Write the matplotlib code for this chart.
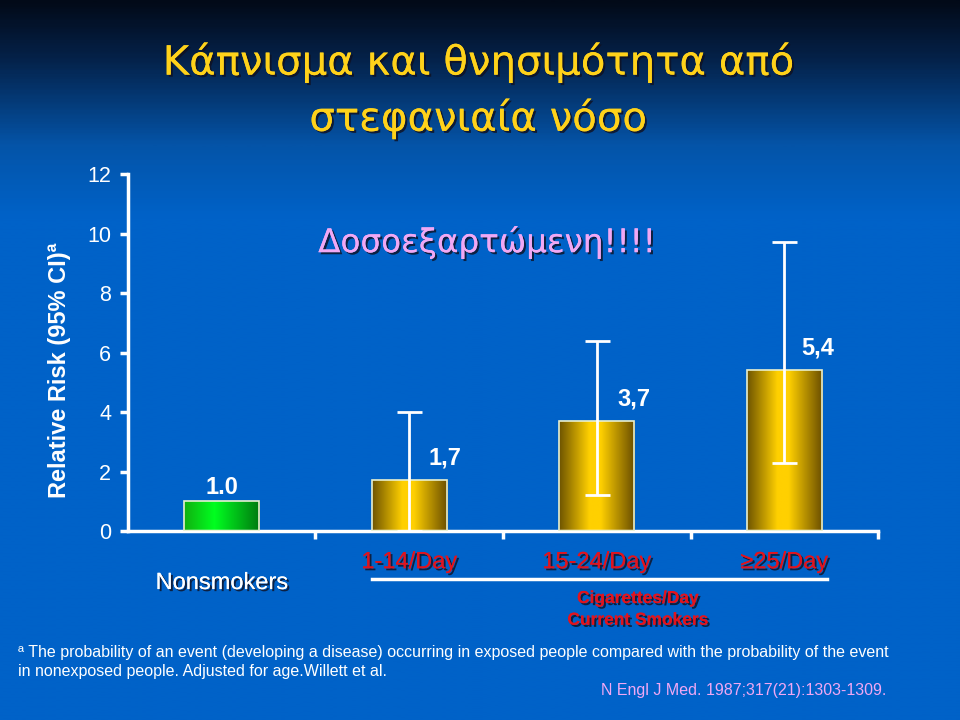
import numpy as np
import matplotlib
matplotlib.use("Agg")
import matplotlib.pyplot as plt
import matplotlib.patheffects as pe
from matplotlib.colors import LinearSegmentedColormap

# data
groups = ["Nonsmokers", "1-14/Day", "15-24/Day", "\u226525/Day"]
rr = [1.0, 1.7, 3.7, 5.4]
rr_labels = ["1.0", "1,7", "3,7", "5,4"]
ci_low = [None, 0.0, 1.2, 2.3]
ci_high = [None, 4.0, 6.4, 9.7]
yticks = [0, 2, 4, 6, 8, 10, 12]

ARIAL = ["Liberation Sans", "DejaVu Sans"]
GREEK = ["DejaVu Sans"]
RED = "#e0141e"
PINK = "#f0a8f4"
GOLD = "#ffd21a"

shadow = [pe.withSimplePatchShadow(offset=(1.5, -1.5), shadow_rgbFace="#101020", alpha=0.8), pe.Normal()]

fig = plt.figure(figsize=(9.6, 7.2), dpi=100)

# background: dark navy at the top fading into slide blue
bg = fig.add_axes([0, 0, 1, 1], zorder=-10)
bg_cmap = LinearSegmentedColormap.from_list("bg", [(0, "#020a18"), (0.08, "#05224a"), (0.2, "#0454a8"), (0.3, "#0062c8"), (1, "#0062c8")])
grad = np.linspace(0, 1, 400).reshape(-1, 1)
bg.imshow(grad, aspect="auto", cmap=bg_cmap, extent=[0, 1, 0, 1], origin="upper")
bg.set_xlim(0, 1)
bg.set_ylim(0, 1)
bg.axis("off")

ax = fig.add_axes([0.1333, 0.2625, 0.7813, 0.4958])
ax.patch.set_alpha(0)

x = np.arange(len(groups)) + 0.5
bars = ax.bar(x, rr, width=0.4, color="none", edgecolor="#e8f0d0", linewidth=1.2, zorder=3)

gold_cmap = LinearSegmentedColormap.from_list("gold", [(0, "#6e5400"), (0.4, "#ffd000"), (0.55, "#ffd000"), (1, "#6a4e00")])
green_cmap = LinearSegmentedColormap.from_list("green", [(0, "#10b010"), (0.4, "#00ff20"), (1, "#007a10")])
hgrad = np.linspace(0, 1, 200).reshape(1, -1)
for i, b in enumerate(bars):
    cm = green_cmap if i == 0 else gold_cmap
    im = ax.imshow(hgrad, aspect="auto", cmap=cm, zorder=2,
                   extent=[b.get_x(), b.get_x() + b.get_width(), 0, b.get_height()])
    im.set_clip_path(b)

for i in range(1, len(groups)):
    ax.errorbar(x[i], rr[i], yerr=[[rr[i] - ci_low[i]], [ci_high[i] - rr[i]]], fmt="none",
                ecolor="white", elinewidth=2, capsize=9, capthick=2, zorder=4, clip_on=False)

label_dx = [0, 0.19, 0.2, 0.18]
label_dy = [0.45, 0.75, 0.75, 0.75]
for i in range(len(groups)):
    ax.text(x[i] + label_dx[i], rr[i] + label_dy[i], rr_labels[i], ha="center", va="center",
            color="white", fontsize=17, fontweight="bold", family=ARIAL, zorder=5)

ax.set_xlim(0, 4)
ax.set_ylim(0, 12)
ax.set_yticks(yticks)
ax.set_xticks([1, 2, 3, 4])
ax.set_xticklabels([])
for s in ["top", "right"]:
    ax.spines[s].set_visible(False)
for s in ["left", "bottom"]:
    ax.spines[s].set_color("white")
    ax.spines[s].set_linewidth(2.5)
ax.tick_params(axis="y", colors="white", labelsize=15.5, width=2.5, length=6, direction="out", pad=6)
ax.tick_params(axis="x", colors="white", width=2.5, length=6, direction="out")
for t in ax.get_yticklabels():
    t.set_family(ARIAL)

# category labels under the axis
for i, g in enumerate(groups):
    if i == 0:
        ax.text(x[i], -1.75, g, ha="center", va="center", color="white", fontsize=17,
                family=ARIAL, clip_on=False, path_effects=shadow)
    else:
        ax.text(x[i], -1.05, g, ha="center", va="center", color=RED, fontsize=17,
                family=ARIAL, clip_on=False, path_effects=shadow)
ax.plot([x[1] - 0.2, x[3] + 0.23], [-1.6, -1.6], color="white", lw=2.5, clip_on=False)
ax.text(2.72, -2.27, "Cigarettes/Day", ha="center", va="center", color=RED,
        fontsize=12.5, fontweight="bold", family=ARIAL, clip_on=False, path_effects=shadow)
ax.text(2.72, -3.0, "Current Smokers", ha="center", va="center", color=RED,
        fontsize=12.5, fontweight="bold", family=ARIAL, clip_on=False, path_effects=shadow)

# titles
fig.text(0.498, 0.913, "\u039a\u03ac\u03c0\u03bd\u03b9\u03c3\u03bc\u03b1 \u03ba\u03b1\u03b9 \u03b8\u03bd\u03b7\u03c3\u03b9\u03bc\u03cc\u03c4\u03b7\u03c4\u03b1 \u03b1\u03c0\u03cc",
         ha="center", va="center", color=GOLD, fontsize=29, family=GREEK, path_effects=shadow)
fig.text(0.498, 0.835, "\u03c3\u03c4\u03b5\u03c6\u03b1\u03bd\u03b9\u03b1\u03af\u03b1 \u03bd\u03cc\u03c3\u03bf",
         ha="center", va="center", color=GOLD, fontsize=29, family=GREEK, path_effects=shadow)
fig.text(0.507, 0.664, "\u0394\u03bf\u03c3\u03bf\u03b5\u03be\u03b1\u03c1\u03c4\u03ce\u03bc\u03b5\u03bd\u03b7!!!!",
         ha="center", va="center", color=PINK, fontsize=23.5, family=GREEK, path_effects=shadow)

fig.text(0.062, 0.486, "Relative Risk (95% CI)\u00aa", rotation=90, ha="center", va="center",
         color="white", fontsize=17, fontweight="bold", family=ARIAL)

# footnote
fig.text(0.019, 0.094, "\u00aa The probability of an event (developing a disease) occurring in exposed people compared with the probability of the event",
         ha="left", va="center", color="white", fontsize=11.5, family=ARIAL)
fig.text(0.019, 0.068, "in nonexposed people. Adjusted for age.Willett et al.",
         ha="left", va="center", color="white", fontsize=11.5, family=ARIAL)
fig.text(0.775, 0.041, "N Engl J Med. 1987;317(21):1303-1309.", ha="center", va="center",
         color=PINK, fontsize=11.5, family=ARIAL)

fig.savefig("out.png", dpi=100)
